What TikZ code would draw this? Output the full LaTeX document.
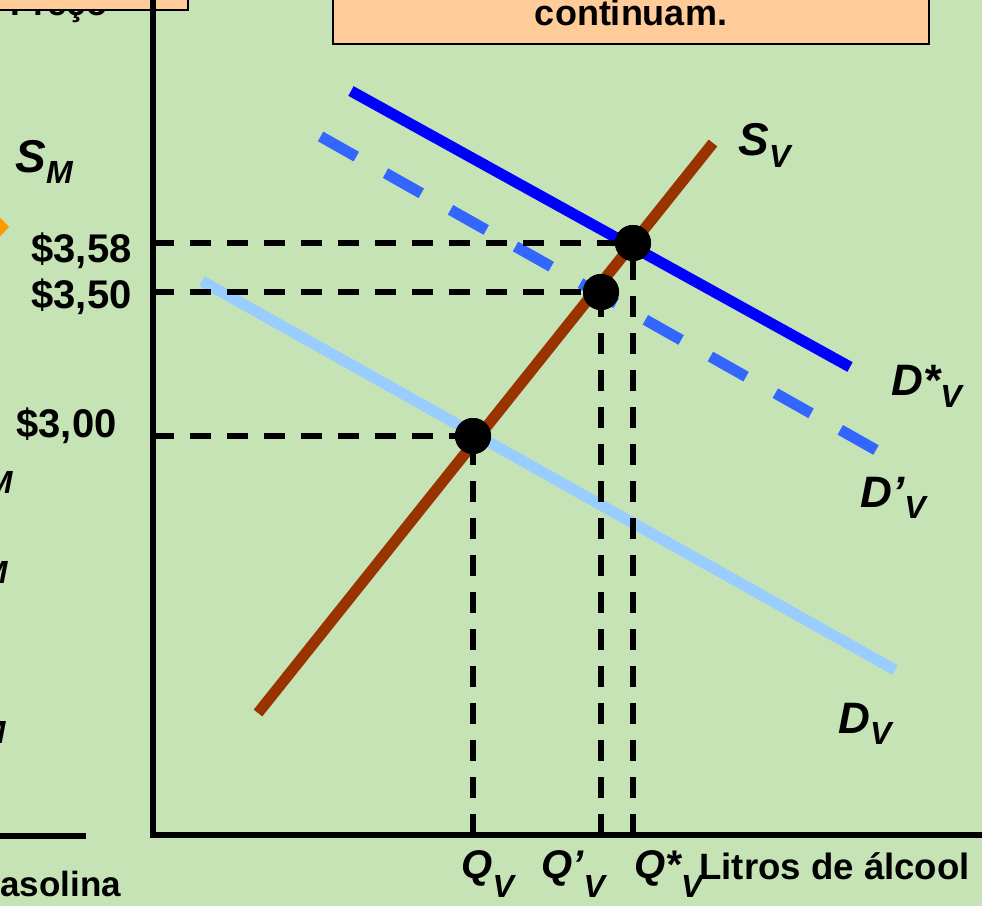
\documentclass[tikz,border=0pt]{standalone}
\usepackage{fontspec}
\setmainfont{Liberation Sans}
\usepackage{graphicx}
\usetikzlibrary{arrows.meta,positioning}
\definecolor{bggreen}{HTML}{C5E3B5}
\definecolor{boxorange}{HTML}{FFCC99}
\definecolor{supply}{HTML}{993300}
\definecolor{dstar}{HTML}{0000FF}
\definecolor{dprime}{HTML}{3366FF}
\definecolor{dbase}{HTML}{99CCFF}
\definecolor{marker}{HTML}{FF9900}
\newcommand{\sz}[1]{\fontsize{#1}{#1}\selectfont}
\newcommand{\curvelab}[4]{{\sz{#1}#2}\raisebox{-#3}{\sz{16}#4}}

\begin{document}
\begin{tikzpicture}[x=0.5pt,y=-0.5pt,
  axis/.style={line width=2.6pt},
  guide/.style={line width=2.6pt,dash pattern=on 10.5pt off 8pt},
  curve/.style={line width=5.5pt},
  eq/.style={circle,fill=black,inner sep=0pt,minimum size=18pt},
  lab/.style={font=\bfseries\itshape,inner sep=0pt,anchor=base west},
  txt/.style={inner sep=0pt},
  panel/.style={fill=boxorange,draw=black,line width=1.25pt}]
 \useasboundingbox (0,0) rectangle (982,906);
 \clip (0,0) rectangle (982,906);
 \fill[bggreen] (0,0) rectangle (982,906);
 % left graph, cut at the edge
 \node[txt,anchor=base west,font=\bfseries\sz{17.5}] (pricelab) at (10,15) {Preço};
 \draw[panel] (-10,-10) rectangle (188,10);
 \fill[marker] (-10,227) -- (0,217.5) -- (9,227) -- (0,236.5) -- cycle;
 \node[lab] (sm) at (15,172) {\curvelab{23}{S}{5.5pt}{M}};
 \foreach \x/\y in {13/493,8/583,6/743}
   \node[lab,anchor=base east] (frag\y) at (\x,\y) {\sz{16}M};
 \draw[axis] (-10,836) -- (86,836);
 \node[txt,anchor=base west,font=\bfseries\sz{17.5}] (leftq) at (0,896) {asolina};
 % note box
 \draw[panel] (333,-10) rectangle (929,44);
 \node[txt,anchor=base,font=\bfseries\sz{18}] (note) at (631,25) {continuam.};
 % right graph
 \coordinate (O) at (153,835);
 \draw[axis] (153,-5) -- (O) -- (990,835);
 \draw[curve,dbase] (202,281) -- (895,670);
 \draw[curve,dprime,dash pattern=on 20.5pt off 16.8pt] (876,450) -- (318,135);
 \draw[curve,dstar] (351,91) -- (850,367);
 \draw[curve,supply] (258,713) -- (713,143);
 \node[eq] (e0) at (473,436) {};
 \node[eq] (e1) at (601,292) {};
 \node[eq] (e2) at (633,243) {};
 \foreach \p in {e0,e1,e2}{
   \draw[guide] (O |- \p) -- (\p.center);
   \draw[guide] (\p |- O) -- (\p.center);}
 \foreach \p in {e0,e1,e2} \fill (\p) circle (9pt);
 % prices
 \node[txt,anchor=base east,font=\bfseries\sz{20}] (p58) at (132,262) {\$3,58};
 \node[txt,anchor=base east,font=\bfseries\sz{20}] (p50) at (132,308) {\$3,50};
 \node[txt,anchor=base east,font=\bfseries\sz{20}] (p00) at (117,437) {\$3,00};
 % curve labels
 \node[lab] (sv) at (738,155) {\curvelab{23}{S}{6pt}{V}};
 \node[lab] (dsv) at (891,395) {\curvelab{22}{D*}{6pt}{V}};
 \node[lab] (dpv) at (860,507) {\curvelab{22}{D’}{5.5pt}{V}};
 \node[lab] (dv) at (838,733) {\curvelab{22}{D}{5.5pt}{V}};
 % quantities
 \node[lab] (qv) at (461,878) {\curvelab{20}{Q}{9.5pt}{V}};
 \node[lab] (qpv) at (541,878) {\curvelab{20}{Q’}{9.5pt}{V}};
 \node[lab] (qsv) at (634,878) {\curvelab{20}{Q*}{9.5pt}{V}};
 \node[txt,anchor=base west,font=\bfseries\sz{18.3}] (xlab) at (699,879) {Litros de álcool};
\end{tikzpicture}
\end{document}
